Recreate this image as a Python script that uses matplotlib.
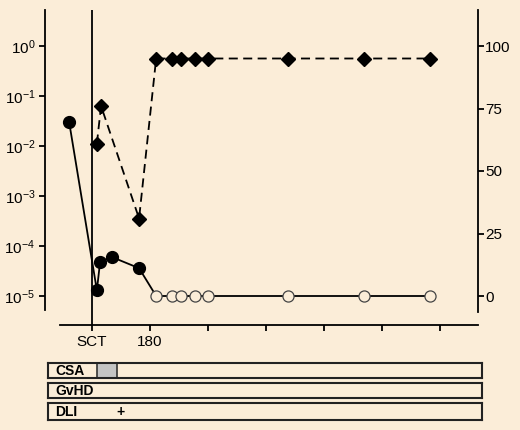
import matplotlib
matplotlib.use("Agg")
import matplotlib.pyplot as plt
from matplotlib.patches import Rectangle

plt.rcParams['font.family'] = ['Liberation Sans', 'DejaVu Sans']
plt.rcParams['mathtext.fontset'] = 'custom'
plt.rcParams['mathtext.rm'] = 'Liberation Sans'
plt.rcParams['mathtext.it'] = 'Liberation Sans'

bg = '#FBEDD8'

# chimerism / MRD (log, left axis)
mrd_days = [-71, 15, 25, 62, 146]
mrd_vals = [0.030, 1.3e-5, 4.8e-5, 6.0e-5, 3.6e-5]
neg_days = [199, 248, 276, 320, 360, 608, 844, 1049]
neg_vals = [1e-5] * 8

# percent (right axis)
pct_days = [15, 28, 146, 199, 248, 276, 320, 360, 608, 844, 1049]
pct_vals = [61, 76, 31, 95, 95, 95, 95, 95, 95, 95, 95]

xticks = [0, 180, 360, 540, 720, 900, 1080]
xtick_labels = ['SCT', '180', '', '', '', '', '']
left_ticks = [1e0, 1e-1, 1e-2, 1e-3, 1e-4, 1e-5]
left_labels = ['$10^{0}$', '$10^{-1}$', '$10^{-2}$', '$10^{-3}$', '$10^{-4}$', '$10^{-5}$']
right_ticks = [0, 25, 50, 75, 100]

csa_period = (15, 78)
dli_day = 87
box_names = ['CSA', 'GvHD', 'DLI']

fig = plt.figure(figsize=(5.2, 4.3), dpi=100)
fig.patch.set_facecolor(bg)

ax = fig.add_axes([45/520, 105/430, 433/520, 315/430])
ax.set_facecolor('none')
ax.set_yscale('log')
ax.set_xlim(-146, 1198)
ax.set_ylim(10**-5.58, 10**0.72)

all_days = mrd_days + neg_days
all_vals = mrd_vals + neg_vals
ax.plot(all_days, all_vals, '-', color='black', lw=1.3, zorder=3)
ax.plot(mrd_days, mrd_vals, 'o', color='black', ms=8.5, zorder=4)
ax.plot(neg_days, neg_vals, 'o', mfc=bg, mec='#444444', mew=0.9, ms=8, zorder=4)
ax.axvline(0, color='black', lw=1.3, zorder=2)

ax.set_xticks(xticks)
ax.set_xticklabels(xtick_labels, fontsize=11)
ax.set_yticks(left_ticks)
ax.set_yticklabels(left_labels, fontsize=11)
ax.yaxis.set_minor_locator(matplotlib.ticker.NullLocator())
ax.tick_params(axis='both', length=4, width=1.3, color='black', labelcolor='black')
ax.tick_params(axis='y', pad=3)
for s in ['top', 'right']:
    ax.spines[s].set_visible(False)
ax.spines['left'].set_linewidth(1.3)
ax.spines['bottom'].set_linewidth(1.3)
ax.spines['left'].set_bounds(10**-5.28, 10**0.72)
ax.spines['bottom'].set_bounds(-99, 1198)

ax2 = ax.twinx()
ax2.set_facecolor('none')
ax2.set_ylim(-11.6, 114.4)
ax2.plot(pct_days, pct_vals, color='black', lw=1.3, linestyle=(0, (5, 3)),
         marker='D', ms=7.5, zorder=4)
ax2.set_yticks(right_ticks)
ax2.tick_params(axis='y', length=4, width=1.3, labelsize=11, pad=1)
for s in ['top', 'left', 'bottom']:
    ax2.spines[s].set_visible(False)
ax2.spines['right'].set_linewidth(1.3)
ax2.spines['right'].set_bounds(-6.4, 114.4)

# treatment boxes below
box_rows = [(363, 378), (383, 398), (403, 420)]
for name, (top, bot) in zip(box_names, box_rows):
    bx = fig.add_axes([48/520, (430-bot)/430, 434/520, (bot-top)/430])
    bx.set_facecolor(bg)
    bx.set_xlim(-137, 1210)
    bx.set_ylim(0, 1)
    bx.set_xticks([])
    bx.set_yticks([])
    for s in bx.spines.values():
        s.set_linewidth(1.5)
        s.set_color('#222222')
    bx.text(-115, 0.45, name, fontsize=10, fontweight='bold', va='center', ha='left')
    if name == 'CSA':
        bx.add_patch(Rectangle((csa_period[0], 0), csa_period[1]-csa_period[0], 1,
                               facecolor='#C4C4C4', edgecolor='#333333', lw=1.2))
    if name == 'DLI':
        bx.text(dli_day, 0.45, '+', fontsize=10, fontweight='bold', va='center', ha='center')

fig.savefig('out.png', dpi=100, facecolor=bg)
